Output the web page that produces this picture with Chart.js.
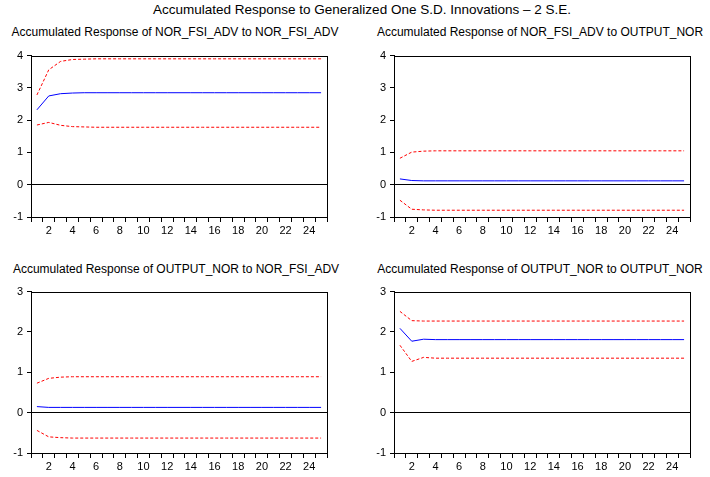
<!DOCTYPE html>
<html>
<head>
<meta charset="utf-8">
<script src="https://cdn.jsdelivr.net/npm/chart.js@4.4.1/dist/chart.umd.min.js"></script>
<style>
  body { margin: 0; background: #fff; }
  #wrap { position: relative; width: 710px; height: 477px; font-family: "Liberation Sans", Arial, sans-serif; color: #000; }
  .ttl { position: absolute; font-size: 12px; white-space: nowrap; text-align: center; }
  canvas { position: absolute; }
</style>
</head>
<body>
<div id="wrap">
  <div class="ttl" style="left:7px;width:710px;top:2px;font-size:13.5px;">Accumulated Response to Generalized One S.D. Innovations – 2 S.E.</div>
  <div class="ttl" style="left:0;width:350px;top:25px;">Accumulated Response of NOR_FSI_ADV to NOR_FSI_ADV</div>
  <div class="ttl" style="left:366px;width:348px;top:25px;">Accumulated Response of NOR_FSI_ADV to OUTPUT_NOR</div>
  <div class="ttl" style="left:0;width:352px;top:262px;">Accumulated Response of OUTPUT_NOR to NOR_FSI_ADV</div>
  <div class="ttl" style="left:366px;width:348px;top:262px;">Accumulated Response of OUTPUT_NOR to OUTPUT_NOR</div>
  <canvas id="c1" width="340" height="195" style="left:0;top:45px;"></canvas>
  <canvas id="c2" width="340" height="195" style="left:363px;top:45px;"></canvas>
  <canvas id="c3" width="340" height="195" style="left:0;top:281px;"></canvas>
  <canvas id="c4" width="340" height="195" style="left:363px;top:281px;"></canvas>
</div>
<script>
const periodos = ['1','2','3','4','5','6','7','8','9','10','11','12','13','14','15','16','17','18','19','20','21','22','23','24','25'];

// NOR_FSI_ADV para NOR_FSI_ADV
const resp1 = [2.32,2.75,2.82,2.84,2.85,2.85,2.85,2.85,2.85,2.85,2.85,2.85,2.85,2.85,2.85,2.85,2.85,2.85,2.85,2.85,2.85,2.85,2.85,2.85,2.85];
const sup1  = [2.78,3.56,3.82,3.88,3.89,3.90,3.90,3.90,3.90,3.90,3.90,3.90,3.90,3.90,3.90,3.90,3.90,3.90,3.90,3.90,3.90,3.90,3.90,3.90,3.90];
const inf1  = [1.85,1.93,1.84,1.80,1.79,1.78,1.78,1.78,1.78,1.78,1.78,1.78,1.78,1.78,1.78,1.78,1.78,1.78,1.78,1.78,1.78,1.78,1.78,1.78,1.78];

// NOR_FSI_ADV para OUTPUT_NOR
const resp2 = [0.18,0.13,0.12,0.12,0.12,0.12,0.12,0.12,0.12,0.12,0.12,0.12,0.12,0.12,0.12,0.12,0.12,0.12,0.12,0.12,0.12,0.12,0.12,0.12,0.12];
const sup2  = [0.82,1.01,1.04,1.05,1.05,1.05,1.05,1.05,1.05,1.05,1.05,1.05,1.05,1.05,1.05,1.05,1.05,1.05,1.05,1.05,1.05,1.05,1.05,1.05,1.05];
const inf2  = [-0.48,-0.76,-0.78,-0.79,-0.79,-0.79,-0.79,-0.79,-0.79,-0.79,-0.79,-0.79,-0.79,-0.79,-0.79,-0.79,-0.79,-0.79,-0.79,-0.79,-0.79,-0.79,-0.79,-0.79,-0.79];

// OUTPUT_NOR para NOR_FSI_ADV
const resp3 = [0.15,0.13,0.13,0.13,0.13,0.13,0.13,0.13,0.13,0.13,0.13,0.13,0.13,0.13,0.13,0.13,0.13,0.13,0.13,0.13,0.13,0.13,0.13,0.13,0.13];
const sup3  = [0.73,0.85,0.88,0.89,0.89,0.89,0.89,0.89,0.89,0.89,0.89,0.89,0.89,0.89,0.89,0.89,0.89,0.89,0.89,0.89,0.89,0.89,0.89,0.89,0.89];
const inf3  = [-0.44,-0.60,-0.62,-0.63,-0.63,-0.63,-0.63,-0.63,-0.63,-0.63,-0.63,-0.63,-0.63,-0.63,-0.63,-0.63,-0.63,-0.63,-0.63,-0.63,-0.63,-0.63,-0.63,-0.63,-0.63];

// OUTPUT_NOR para OUTPUT_NOR
const resp4 = [2.09,1.77,1.82,1.81,1.81,1.81,1.81,1.81,1.81,1.81,1.81,1.81,1.81,1.81,1.81,1.81,1.81,1.81,1.81,1.81,1.81,1.81,1.81,1.81,1.81];
const sup4  = [2.51,2.28,2.27,2.27,2.27,2.27,2.27,2.27,2.27,2.27,2.27,2.27,2.27,2.27,2.27,2.27,2.27,2.27,2.27,2.27,2.27,2.27,2.27,2.27,2.27];
const inf4  = [1.67,1.27,1.37,1.35,1.35,1.35,1.35,1.35,1.35,1.35,1.35,1.35,1.35,1.35,1.35,1.35,1.35,1.35,1.35,1.35,1.35,1.35,1.35,1.35,1.35];

const moldura = {
    id: 'moldura',
    afterDraw(chart) {
        const a = chart.chartArea;
        const ctx = chart.ctx;
        ctx.save();
        ctx.strokeStyle = '#000';
        ctx.lineWidth = 1;
        ctx.strokeRect(Math.round(a.left) + 0.5, Math.round(a.top) + 0.5, Math.round(a.right - a.left), Math.round(a.bottom - a.top));
        ctx.restore();
    }
};

function linha(dados, cor, tracejado) {
    return {
        data: dados,
        borderColor: cor,
        borderWidth: 1,
        borderDash: tracejado ? [3, 2] : [],
        pointRadius: 0,
        tension: 0,
        fill: false
    };
}

function desenhar(id, resp, sup, inf, ymax) {
    const ctx = document.getElementById(id).getContext('2d');
    new Chart(ctx, {
        type: 'line',
        data: {
            labels: periodos,
            datasets: [
                linha(sup, '#ff0000', true),
                linha(inf, '#ff0000', true),
                linha(resp, '#0000ff', false)
            ]
        },
        options: {
            responsive: false,
            animation: false,
            layout: { padding: { top: 7, right: 13, bottom: 0, left: 0 } },
            plugins: { legend: { display: false }, tooltip: { enabled: false } },
            scales: {
                x: {
                    type: 'category',
                    offset: true,
                    grid: { offset: true, drawOnChartArea: false, tickLength: 5, tickColor: '#000' },
                    border: { color: '#000' },
                    ticks: {
                        autoSkip: false,
                        maxRotation: 0,
                        padding: 2,
                        color: '#000',
                        font: { family: 'Liberation Sans', size: 11 },
                        callback: function(v, i) { return (i + 1) % 2 === 0 ? periodos[i] : ''; }
                    },
                    afterFit: function(s) { s.height = 23; }
                },
                y: {
                    min: -1,
                    max: ymax,
                    grid: {
                        color: c => (c.tick && c.tick.value === 0) ? '#000' : 'rgba(0,0,0,0)',
                        tickColor: '#000',
                        tickLength: 4
                    },
                    border: { color: '#000' },
                    ticks: {
                        stepSize: 1,
                        padding: 4,
                        color: '#000',
                        font: { family: 'Liberation Sans', size: 11 }
                    },
                    afterFit: function(s) { s.width = 31; }
                }
            }
        },
        plugins: [moldura]
    });
}

desenhar('c1', resp1, sup1, inf1, 4);
desenhar('c2', resp2, sup2, inf2, 4);
desenhar('c3', resp3, sup3, inf3, 3);
desenhar('c4', resp4, sup4, inf4, 3);
</script>
</body>
</html>
